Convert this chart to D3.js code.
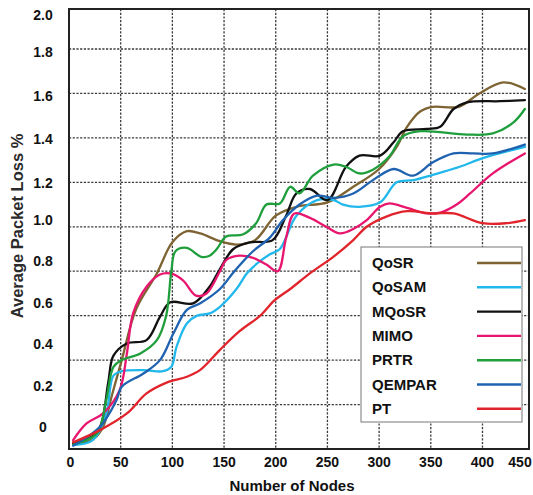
<!DOCTYPE html>
<html>
<head>
<meta charset="utf-8">
<script src="https://cdn.jsdelivr.net/npm/d3@7/dist/d3.min.js"></script>
<style>
  html, body { margin: 0; padding: 0; background: #fff; }
  svg { display: block; font-family: "Liberation Sans", Arial, sans-serif; }
</style>
</head>
<body>
<svg id="chart" width="533" height="495"></svg>
<script>
// ---- data ----
const seriesNames = ["QoSR", "QoSAM", "MQoSR", "MIMO", "PRTR", "QEMPAR", "PT"];
const seriesColors = ["#7d6432", "#22b8ec", "#111111", "#e8166e", "#1f9e3c", "#1f62b0", "#e1242c"];

const qosrX  = [4, 15, 25, 33, 42, 51, 65, 85, 100, 114, 127, 146, 162, 180, 200, 220, 250, 275, 300, 317, 327, 340, 352, 377, 397, 420, 441];
const qosrY  = [0.03, 0.03, 0.05, 0.10, 0.25, 0.40, 0.63, 0.79, 0.93, 0.98, 0.97, 0.935, 0.92, 0.94, 1.05, 1.09, 1.11, 1.18, 1.26, 1.36, 1.45, 1.52, 1.54, 1.54, 1.60, 1.65, 1.62];

const qosamX = [4, 23, 36, 43, 51, 72, 91, 99, 104, 114, 124, 136, 146, 162, 172, 182, 194, 204, 220, 240, 256, 265, 281, 301, 317, 333, 352, 378, 401, 441];
const qosamY = [0.018, 0.04, 0.16, 0.33, 0.35, 0.355, 0.35, 0.37, 0.46, 0.565, 0.60, 0.61, 0.64, 0.72, 0.79, 0.835, 0.875, 0.90, 1.05, 1.12, 1.12, 1.10, 1.09, 1.11, 1.20, 1.21, 1.234, 1.27, 1.31, 1.36];

const mqosrX = [4, 20, 30, 38, 43, 56, 75, 88, 98, 120, 136, 146, 159, 175, 197, 210, 220, 233, 250, 268, 281, 301, 314, 323, 346, 359, 372, 385, 417, 441];
const mqosrY = [0.025, 0.05, 0.10, 0.30, 0.42, 0.475, 0.49, 0.595, 0.66, 0.655, 0.73, 0.81, 0.90, 0.93, 0.94, 1.05, 1.15, 1.17, 1.12, 1.27, 1.32, 1.32, 1.38, 1.43, 1.44, 1.45, 1.53, 1.56, 1.565, 1.57];

const mimoX  = [4, 17, 33, 49, 56, 62, 75, 88, 98, 110, 123, 133, 146, 152, 165, 178, 191, 202, 210, 218, 233, 249, 262, 275, 288, 301, 310, 327, 346, 360, 375, 388, 410, 441];
const mimoY  = [0.04, 0.115, 0.16, 0.265, 0.43, 0.61, 0.73, 0.785, 0.79, 0.76, 0.69, 0.70, 0.80, 0.85, 0.87, 0.86, 0.83, 0.80, 0.95, 1.06, 1.04, 1.00, 0.97, 0.99, 1.03, 1.09, 1.105, 1.085, 1.06, 1.065, 1.10, 1.15, 1.24, 1.33];

const prtrX  = [4, 27, 36, 43, 51, 69, 85, 94, 99, 103, 114, 128, 136, 143, 152, 168, 181, 191, 204, 214, 223, 236, 256, 268, 281, 294, 310, 323, 340, 385, 410, 430, 441];
const prtrY  = [0.02, 0.07, 0.22, 0.37, 0.40, 0.43, 0.49, 0.60, 0.80, 0.89, 0.905, 0.865, 0.87, 0.90, 0.956, 0.965, 1.016, 1.10, 1.105, 1.18, 1.15, 1.23, 1.28, 1.27, 1.24, 1.257, 1.317, 1.407, 1.43, 1.415, 1.42, 1.47, 1.53];

const qemparX = [4, 30, 46, 51, 72, 88, 101, 114, 127, 146, 160, 178, 194, 207, 223, 240, 256, 275, 294, 314, 333, 352, 372, 391, 410, 441];
const qemparY = [0.015, 0.10, 0.22, 0.28, 0.34, 0.40, 0.52, 0.626, 0.656, 0.72, 0.80, 0.89, 0.95, 1.03, 1.10, 1.14, 1.13, 1.15, 1.21, 1.26, 1.23, 1.29, 1.33, 1.33, 1.33, 1.37];

const ptX    = [4, 30, 56, 75, 95, 114, 127, 146, 165, 185, 199, 214, 233, 256, 275, 288, 307, 327, 352, 372, 400, 423, 441];
const ptY    = [0.03, 0.085, 0.16, 0.25, 0.30, 0.325, 0.356, 0.446, 0.53, 0.60, 0.67, 0.72, 0.79, 0.866, 0.94, 1.00, 1.046, 1.07, 1.06, 1.06, 1.016, 1.016, 1.03];

const xTicks = [0, 50, 100, 150, 200, 250, 300, 350, 400];
const xLastLabel = "450";
const yTicks = [0, 0.2, 0.4, 0.6, 0.8, 1.0, 1.2, 1.4, 1.6, 1.8, 2.0];
const yGrid = [0.2, 0.4, 0.6, 0.8, 1.0, 1.2, 1.4, 1.6, 1.8];

const xTitle = "Number of Nodes";
const yTitle = "Average Packet Loss %";

// ---- build ----
const seriesX = [qosrX, qosamX, mqosrX, mimoX, prtrX, qemparX, ptX];
const seriesY = [qosrY, qosamY, mqosrY, mimoY, prtrY, qemparY, ptY];
const series = seriesNames.map((n, i) => ({
  name: n, color: seriesColors[i],
  pts: seriesX[i].map((xv, j) => [xv, seriesY[i][j]])
}));

const svg = d3.select("#chart");
const pLeft = 69, pRight = 529, pTop = 9, pBottom = 449;

const x = d3.scaleLinear().domain([0, 445]).range([pLeft, pRight]);
const y = d3.scaleLinear().domain([0, 1.98]).range([pBottom, pTop]);
// tick labels in the reference sit slightly off the grid in the lower half
const yLab = d3.scaleLinear().domain([0, 1.0, 1.2, 1.8, 2.0]).range([427, 220, 183, 52, 15]);

// grid
const grid = svg.append("g");
grid.selectAll("line.gx").data(xTicks.filter(d => d > 0)).join("line").attr("class", "gx")
  .attr("x1", d => x(d)).attr("x2", d => x(d))
  .attr("y1", pTop).attr("y2", pBottom)
  .attr("stroke", "#3a3a3a").attr("stroke-width", 1.3).attr("stroke-dasharray", "2.2,1.5");
grid.selectAll("line.gy").data(yGrid).join("line").attr("class", "gy")
  .attr("x1", pLeft).attr("x2", pRight)
  .attr("y1", d => y(d)).attr("y2", d => y(d))
  .attr("stroke", "#3a3a3a").attr("stroke-width", 1.3).attr("stroke-dasharray", "2.2,1.5");

// lines
const line = d3.line().x(d => x(d[0])).y(d => y(d[1])).curve(d3.curveCatmullRom.alpha(0.5));
svg.append("g").selectAll("path").data(series).join("path")
  .attr("d", d => line(d.pts))
  .attr("fill", "none").attr("stroke", d => d.color)
  .attr("stroke-width", 2.3).attr("stroke-linejoin", "round").attr("stroke-linecap", "round");

// frame
svg.append("rect").attr("x", pLeft).attr("y", pTop)
  .attr("width", pRight - pLeft).attr("height", pBottom - pTop)
  .attr("fill", "none").attr("stroke", "#222").attr("stroke-width", 2);

// x tick labels
const xl = svg.append("g").attr("font-size", 14).attr("font-weight", "bold").attr("fill", "#111");
xl.selectAll("text").data(xTicks).join("text")
  .attr("x", d => x(d) + (d === 0 ? 1.5 : 0)).attr("y", 467)
  .attr("text-anchor", "middle").text(d => d);
xl.append("text").attr("x", x.range()[1] - 9).attr("y", 467)
  .attr("text-anchor", "middle").text(xLastLabel);

// y tick labels
svg.append("g").attr("font-size", 14).attr("font-weight", "bold").attr("fill", "#111")
  .selectAll("text").data(yTicks).join("text")
  .attr("x", 43).attr("y", d => yLab(d) + 5)
  .attr("text-anchor", "middle").text(d => d === 0 ? "0" : d3.format(".1f")(d));

// axis titles
svg.append("text").attr("x", 292).attr("y", 491).attr("text-anchor", "middle")
  .attr("font-size", 15).attr("font-weight", "bold").attr("fill", "#111").text(xTitle);
svg.append("text").attr("transform", "translate(23,226) rotate(-90)").attr("text-anchor", "middle")
  .attr("font-size", 16.5).attr("font-weight", "bold").attr("fill", "#2a2a2a").text(yTitle);

// legend
const lg = svg.append("g");
lg.append("rect").attr("x", 361).attr("y", 247).attr("width", 161).attr("height", 175)
  .attr("fill", "#fff").attr("stroke", "#777").attr("stroke-width", 1);
const ly = i => 263 + i * 24.3;
const items = lg.selectAll("g").data(series).join("g");
items.append("text").attr("x", 372).attr("y", (d, i) => ly(i) + 5)
  .attr("font-size", 15).attr("font-weight", "bold").attr("fill", "#111").text(d => d.name);
items.append("line").attr("x1", 477).attr("x2", 521)
  .attr("y1", (d, i) => ly(i)).attr("y2", (d, i) => ly(i))
  .attr("stroke", d => d.color).attr("stroke-width", 2.4);
</script>
</body>
</html>
